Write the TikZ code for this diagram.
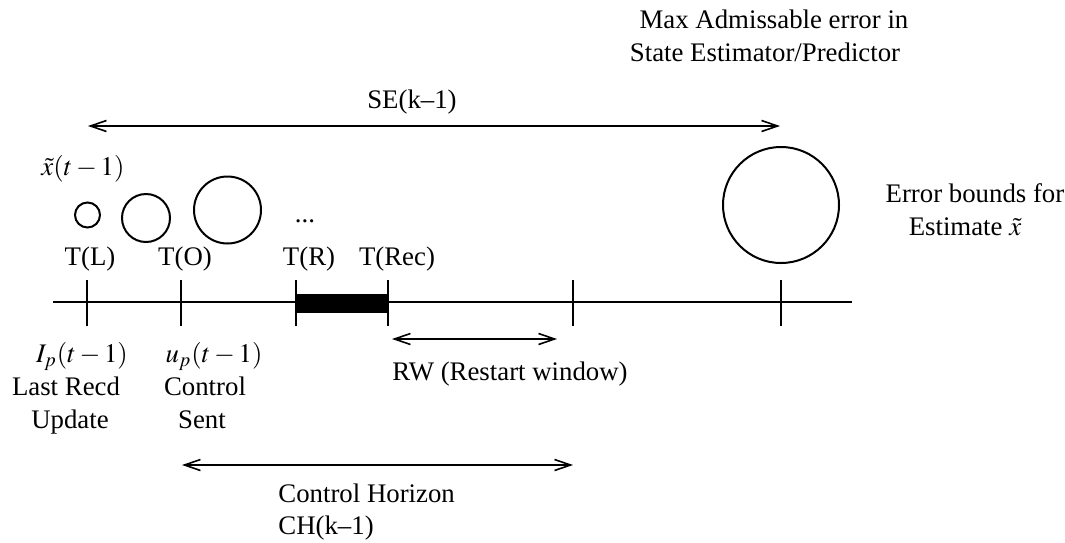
\documentclass[tikz,border=0pt]{standalone}
\usepackage{mathptmx}
\usepackage[no-math]{fontspec}
\setmainfont{Liberation Serif}
\usetikzlibrary{arrows.meta}
\begin{document}
\begin{tikzpicture}[x=0.5pt,y=-0.5pt,
  lbl/.style={font=\fontsize{13.4}{16}\selectfont, inner sep=0pt, anchor=base},
  lblw/.style={lbl, anchor=base west},
  axisline/.style={line width=1.1pt},
  tickline/.style={line width=1pt},
  ring/.style={circle, draw, line width=1pt, inner sep=0pt},
  dblarrow/.style={line width=0.8pt, {Straight Barb[length=8pt,width=5.5pt]}-{Straight Barb[length=8pt,width=5.5pt]}}]
\useasboundingbox (0,0) rectangle (1065,542);

% time axis
\coordinate (a0) at (53,302);
\coordinate (a1) at (852,302);
\draw[axisline] (a0) -- (a1);
\foreach \i/\x in {1/87,2/181,3/296,4/388,5/573,6/781}{
  \coordinate (tt\i) at (\x,280);
  \coordinate (tb\i) at (\x,326);
  \draw[tickline] (tt\i) -- (tb\i);
}
\node[fill=black, minimum width=46pt, minimum height=9.5pt, inner sep=0pt] (blk) at (342,303.5) {};

% error circles
\node[ring, minimum size=12.5pt] (c1) at (87.5,215) {};
\node[ring, minimum size=24pt] (c2) at (146,218) {};
\node[ring, minimum size=33.5pt] (c3) at (227.5,210) {};
\node[ring, minimum size=58pt] (c4) at (781,205) {};
\node[lbl] (dots) at (305,222) {...};

% labels above axis
\node[lbl] (xt) at (83,175) {$\tilde{x}(t-1)$};
\node[lbl] (TL) at (90,265) {T(L)};
\node[lbl] (TO) at (185,265) {T(O)};
\node[lbl] (TR) at (309,265) {T(R)};
\node[lbl] (TRec) at (397,265) {T(Rec)};

% labels below axis
\node[lbl] (Ip) at (82,362) {$I_p(t-1)$};
\node[lbl] (up) at (214,362) {$u_p(t-1)$};
\node[lbl] (lr1) at (66,395) {Last Recd};
\node[lbl] (lr2) at (70,428) {Update};
\node[lbl] (cs1) at (205,395) {Control};
\node[lbl] (cs2) at (202,428) {Sent};

% SE arrow
\coordinate (se0) at (88,126);
\coordinate (se1) at (780,126);
\draw[dblarrow] (se0) -- (se1);
\node[lbl] (se) at (412,108) {SE(k--1)};

% RW arrow
\coordinate (rw0) at (392,339);
\coordinate (rw1) at (557,339);
\draw[dblarrow] (rw0) -- (rw1);
\node[lblw] (rw) at (392,380) {RW (Restart window)};

% CH arrow
\coordinate (ch0) at (182,465);
\coordinate (ch1) at (573,465);
\draw[dblarrow] (ch0) -- (ch1);
\node[lblw] (chA) at (278,502) {Control Horizon};
\node[lblw] (chB) at (278,534) {CH(k--1)};

% top right texts
\node[lbl] (max1) at (774,28) {Max Admissable error in};
\node[lbl] (max2) at (765,61) {State Estimator/Predictor};
\node[lbl] (err1) at (975,202) {Error bounds for};
\node[lbl] (err2) at (965,235) {Estimate $\tilde{x}$};
\end{tikzpicture}
\end{document}
